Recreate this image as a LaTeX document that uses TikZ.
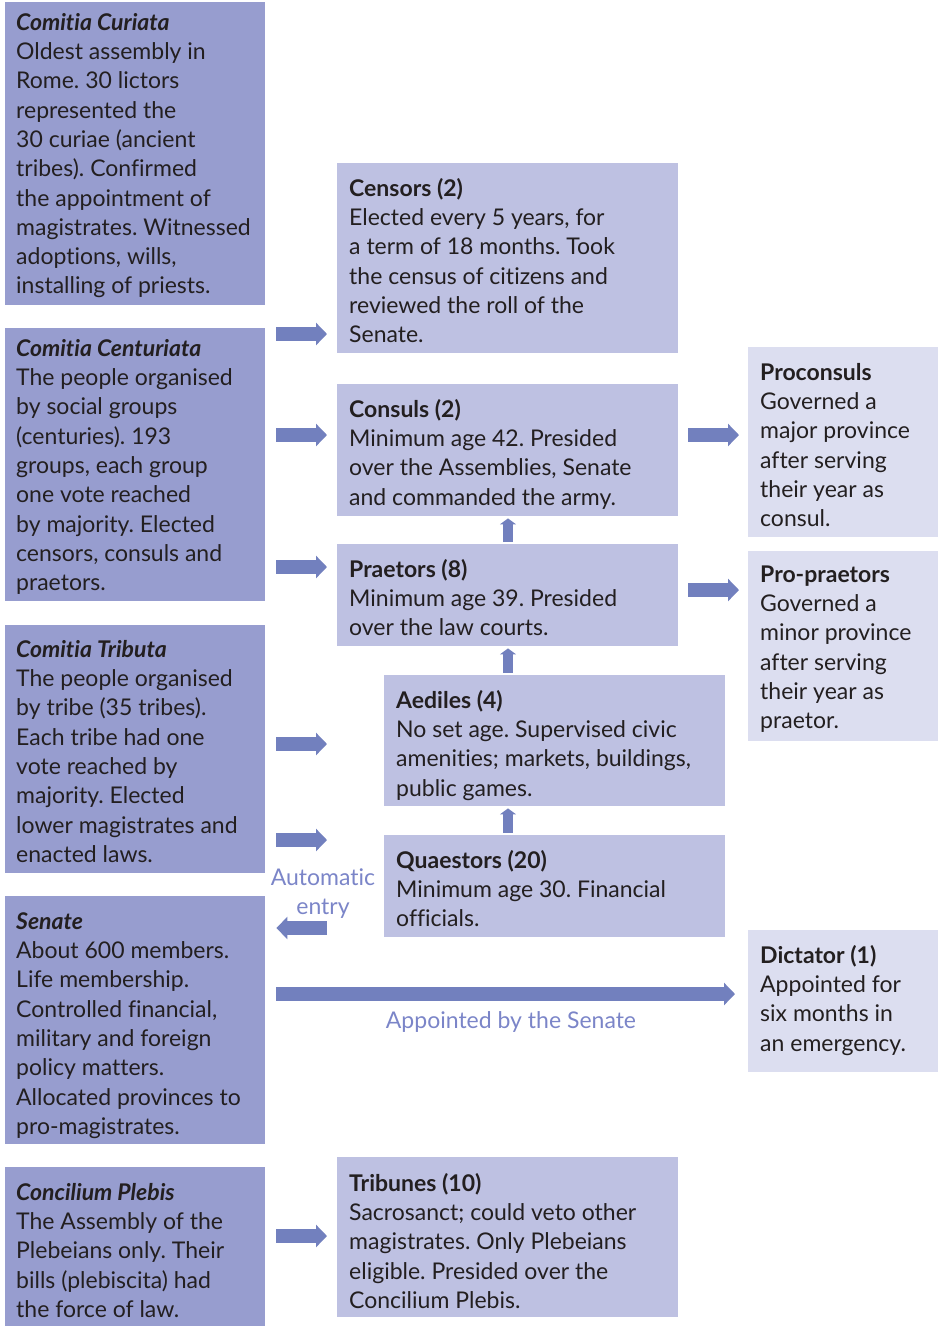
\documentclass[tikz,border=0pt]{standalone}
\usepackage{fontspec}
\setmainfont{Lato}[Ligatures=NoCommon]
\usetikzlibrary{arrows.meta}
\definecolor{leftc}{HTML}{979DCF}
\definecolor{midc}{HTML}{BEC1E2}
\definecolor{rightc}{HTML}{DCDEF0}
\definecolor{arrowc}{HTML}{7280BE}
\definecolor{labc}{HTML}{7B85C8}
\definecolor{txtc}{HTML}{231F20}
\newcommand{\fl}{\rule{0pt}{20pt}}
\frenchspacing
\tikzset{
  x=1pt, y=-1pt,
  panel/.style={inner sep=0pt, anchor=north west},
  lbox/.style={panel, fill=leftc},
  mbox/.style={panel, fill=midc},
  rbox/.style={panel, fill=rightc},
  btxt/.style={inner sep=0pt, anchor=north west, align=left, text=txtc,
    font=\fontsize{23}{29.3}\selectfont},
  barrow/.style={draw=arrowc, line width=14pt, -{Triangle[width=22pt,length=11pt]}},
  uarrow/.style={draw=arrowc, line width=10pt, -{Triangle[width=16pt,length=6pt]}},
  lab/.style={text=labc, align=center, inner sep=0pt, font=\fontsize{23}{29.3}\selectfont}
}
\begin{document}
\begin{tikzpicture}
\useasboundingbox (0,0) rectangle (938,1326);
% left column
\node[lbox, minimum width=260pt, minimum height=303pt] (curia) at (5,2) {};
\node[lbox, minimum width=260pt, minimum height=273pt] (cent) at (5,328) {};
\node[lbox, minimum width=260pt, minimum height=248pt] (trib) at (5,625) {};
\node[lbox, minimum width=260pt, minimum height=248pt] (sen) at (5,896) {};
\node[lbox, minimum width=260pt, minimum height=159pt] (conc) at (5,1167) {};
% middle column
\node[mbox, minimum width=341pt, minimum height=190pt] (cens) at (337,163) {};
\node[mbox, minimum width=341pt, minimum height=132pt] (cons) at (337,384) {};
\node[mbox, minimum width=341pt, minimum height=102pt] (prae) at (337,544) {};
\node[mbox, minimum width=341pt, minimum height=131pt] (aed) at (384,675) {};
\node[mbox, minimum width=341pt, minimum height=102pt] (quae) at (384,835) {};
\node[mbox, minimum width=341pt, minimum height=160pt] (tribu) at (337,1157) {};
% right column
\node[rbox, minimum width=190pt, minimum height=190pt] (procon) at (748,347) {};
\node[rbox, minimum width=190pt, minimum height=190pt] (propr) at (748,551) {};
\node[rbox, minimum width=190pt, minimum height=142pt] (dict) at (748,930) {};

% texts
\node[btxt] (curiaT) at (16,10) {\fl\textbf{\textit{Comitia Curiata}}\\
Oldest assembly in\\ Rome. 30 lictors\\ represented the\\ 30 curiae (ancient\\
tribes). Confirmed\\ the appointment of\\ magistrates. Witnessed\\ adoptions, wills,\\
installing of priests.};
\node[btxt] (centT) at (16,336) {\fl\textbf{\textit{Comitia Centuriata}}\\
The people organised\\ by social groups\\ (centuries). 193\\ groups, each group\\
one vote reached\\ by majority. Elected\\ censors, consuls and\\ praetors.};
\node[btxt] (tribT) at (16,637) {\fl\textbf{\textit{Comitia Tributa}}\\
The people organised\\ by tribe (35 tribes).\\ Each tribe had one\\ vote reached by\\
majority. Elected\\ lower magistrates and\\ enacted laws.};
\node[btxt] (senT) at (16,909) {\fl\textbf{\textit{Senate}}\\
About 600 members.\\ Life membership.\\ Controlled financial,\\ military and foreign\\
policy matters.\\ Allocated provinces to\\ pro-magistrates.};
\node[btxt] (concT) at (16,1180) {\fl\textbf{\textit{Concilium Plebis}}\\
The Assembly of the\\ Plebeians only. Their\\ bills (plebiscita) had\\ the force of law.};

\node[btxt] (censT) at (349,176) {\fl\textbf{Censors (2)}\\
Elected every 5 years, for\\ a term of 18 months. Took\\ the census of citizens and\\
reviewed the roll of the\\ Senate.};
\node[btxt] (consT) at (349,397) {\fl\textbf{Consuls (2)}\\
Minimum age 42. Presided\\ over the Assemblies, Senate\\ and commanded the army.};
\node[btxt] (praeT) at (349,557) {\fl\textbf{Praetors (8)}\\
Minimum age 39. Presided\\ over the law courts.};
\node[btxt] (aedT) at (396,688) {\fl\textbf{Aediles (4)}\\
No set age. Supervised civic\\ amenities; markets, buildings,\\ public games.};
\node[btxt] (quaeT) at (396,848) {\fl\textbf{Quaestors (20)}\\
Minimum age 30. Financial\\ officials.};
\node[btxt] (tribuT) at (349,1171) {\fl\textbf{Tribunes (10)}\\
Sacrosanct; could veto other\\ magistrates. Only Plebeians\\ eligible. Presided over the\\
Concilium Plebis.};

\node[btxt] (proconT) at (760,360) {\fl\textbf{Proconsuls}\\
Governed a\\ major province\\ after serving\\ their year as\\ consul.};
\node[btxt] (proprT) at (760,562) {\fl\textbf{Pro-praetors}\\
Governed a\\ minor province\\ after serving\\ their year as\\ praetor.};
\node[btxt] (dictT) at (760,943) {\fl\textbf{Dictator (1)}\\
Appointed for\\ six months in\\ an emergency.};

% labels
\node[lab, anchor=base] (autoL) at (323,885) {Automatic};
\node[lab, anchor=base] (autoL2) at (323,914) {entry};
\node[lab, anchor=base] (apptL) at (511,1028) {Appointed by the Senate};

% arrows left -> middle
\draw[barrow, shorten <=11pt, shorten >=10pt] (cent.east |- 0,334) -- (cens.west |- 0,334);
\draw[barrow, shorten <=11pt, shorten >=10pt] (cent.east |- 0,435) -- (cons.west |- 0,435);
\draw[barrow, shorten <=11pt, shorten >=10pt] (cent.east |- 0,567) -- (prae.west |- 0,567);
\draw[barrow, shorten <=11pt, shorten >=57pt] (trib.east |- 0,744) -- (aed.west |- 0,744);
\draw[barrow, shorten <=11pt, shorten >=57pt] (trib.east |- 0,840) -- (quae.west |- 0,840);
\draw[barrow, shorten <=57pt, shorten >=11pt] (quae.west |- 0,928) -- (sen.east |- 0,928);
\draw[barrow, shorten <=11pt, shorten >=13pt] (sen.east |- 0,994) -- (dict.west |- 0,994);
\draw[barrow, shorten <=11pt, shorten >=10pt] (conc.east |- 0,1236) -- (tribu.west |- 0,1236);
% middle -> right
\draw[barrow, shorten <=10pt, shorten >=9pt] (cons.east |- 0,435) -- (procon.west |- 0,435);
\draw[barrow, shorten <=10pt, shorten >=9pt] (prae.east |- 0,590) -- (propr.west |- 0,590);
% up arrows
\draw[uarrow, shorten <=2pt, shorten >=2pt] (prae.north -| 508,0) -- (cons.south -| 508,0);
\draw[uarrow, shorten <=2pt, shorten >=2pt] (aed.north -| 508,0) -- (prae.south -| 508,0);
\draw[uarrow, shorten <=2pt, shorten >=2pt] (quae.north -| 508,0) -- (aed.south -| 508,0);
\end{tikzpicture}
\end{document}
